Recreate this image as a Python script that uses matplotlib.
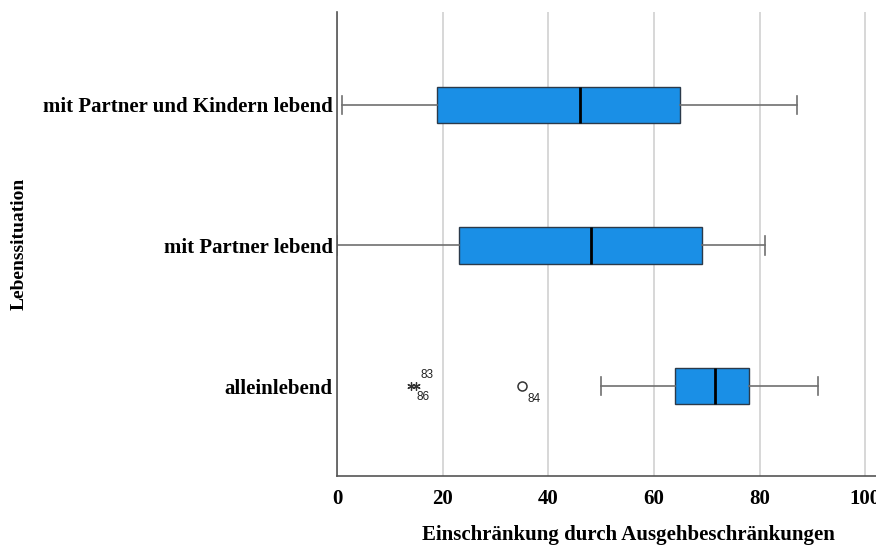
import matplotlib.pyplot as plt

# Kennwerte je Lebenssituation (von unten nach oben)
gruppen = ["alleinlebend", "mit Partner lebend", "mit Partner und Kindern lebend"]
whisker_min = [50, 0, 1]
q1 = [64, 23, 19]
median = [71.5, 48, 46]
q3 = [78, 69, 65]
whisker_max = [91, 81, 87]

# Ausreisser (Kreis) und Extremwerte (Stern) der Gruppe "alleinlebend"
ausreisser_wert = [35]
ausreisser_fall = ["84"]
extrem_wert = [14, 15]
extrem_fall = ["83", "86"]

stats = []
for i, name in enumerate(gruppen):
    stats.append(dict(label=name, whislo=whisker_min[i], q1=q1[i], med=median[i],
                      q3=q3[i], whishi=whisker_max[i], fliers=[]))

fig = plt.figure(figsize=(8.76, 5.46), dpi=100)
ax = fig.add_axes([337 / 876, 70 / 546, 539 / 876, 464 / 546])

pos = list(range(len(gruppen)))
ax.bxp(stats, positions=pos, vert=False, widths=0.26, patch_artist=True,
       showfliers=False,
       boxprops=dict(facecolor="#1a8fe6", edgecolor="#2b3a4a", linewidth=1.0),
       medianprops=dict(color="black", linewidth=2.0),
       whiskerprops=dict(color="#707070", linewidth=1.2),
       capprops=dict(color="#707070", linewidth=1.2),
       capwidths=0.13)

# Ausreisser und Extremwerte mit Fallnummern
ax.plot(ausreisser_wert, [0] * len(ausreisser_wert), "o", ms=6.5, mfc="white",
        mec="#333333", mew=1.1, zorder=4)
for w, f in zip(ausreisser_wert, ausreisser_fall):
    ax.annotate(f, (w, 0), xytext=(4, -9), textcoords="offset points",
                fontsize=8.5, family="Liberation Sans", color="#222222", va="center")
ax.plot(extrem_wert, [0] * len(extrem_wert), marker=(6, 2, 0), ls="none", ms=6,
        color="#333333", mew=0.9, zorder=4)
ax.annotate(extrem_fall[0], (extrem_wert[1], 0), xytext=(3, 8), textcoords="offset points",
            fontsize=8.5, family="Liberation Sans", color="#222222", va="center")
ax.annotate(extrem_fall[1], (extrem_wert[1], 0), xytext=(0, -8), textcoords="offset points",
            fontsize=8.5, family="Liberation Sans", color="#222222", va="center")

ax.set_xlim(0, 102)
ax.set_ylim(-0.64, 2.66)
ax.set_xticks([0, 20, 40, 60, 80, 100])
ax.set_yticks(pos)
ax.set_yticklabels(gruppen)
ax.tick_params(length=0)
ax.tick_params(axis="y", pad=3)
ax.tick_params(axis="x", pad=9)
for lab in ax.get_xticklabels() + ax.get_yticklabels():
    lab.set_fontfamily("Liberation Serif")
    lab.set_fontweight("bold")
    lab.set_fontsize(15)

ax.grid(axis="x", color="#d4d4d4", linewidth=1.3)
ax.set_axisbelow(True)
for s in ["top", "right"]:
    ax.spines[s].set_visible(False)
for s in ["left", "bottom"]:
    ax.spines[s].set_color("#555555")
    ax.spines[s].set_linewidth(1.2)

ax.set_xlabel("Einschränkung durch Ausgehbeschränkungen", fontsize=15,
              family="Liberation Serif", fontweight="bold")
ax.xaxis.set_label_coords((628 - 337) / 539, (476 - 525) / 464)
ax.set_ylabel("Lebenssituation", fontsize=14, family="Liberation Serif",
              fontweight="bold")
ax.yaxis.set_label_coords((28 - 337) / 539, 0.5)

fig.savefig("out.png", dpi=100)
